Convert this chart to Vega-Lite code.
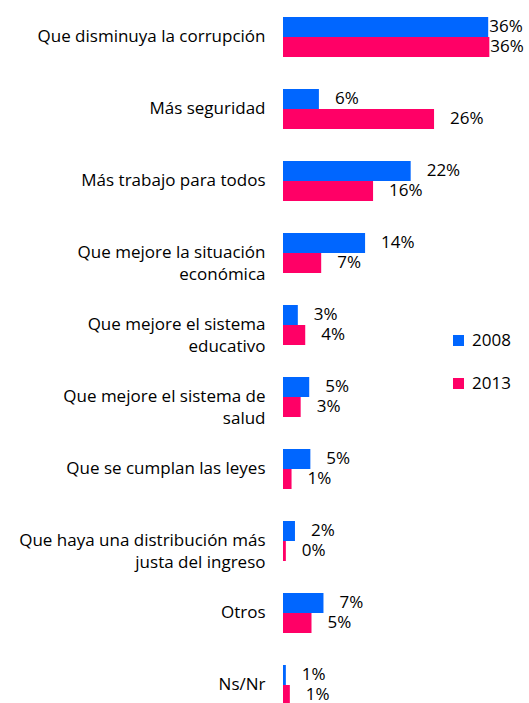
{
  "$schema": "https://vega.github.io/schema/vega-lite/v6.json",
  "autosize": {"type": "none"},
  "padding": {"left": 283, "top": 1, "right": 18, "bottom": 0},
  "width": 228,
  "height": 720,
  "config": {
    "view": {"stroke": null},
    "font": "Open Sans",
    "text": {"font": "Open Sans"}
  },
  "data": {
    "values": [
      {"cat": "Que disminuya la corrupción", "year": "2008", "value": 36.0, "label": "36%"},
      {"cat": "Que disminuya la corrupción", "year": "2013", "value": 36.2, "label": "36%"},
      {"cat": "Más seguridad", "year": "2008", "value": 6.3, "label": "6%"},
      {"cat": "Más seguridad", "year": "2013", "value": 26.5, "label": "26%"},
      {"cat": "Más trabajo para todos", "year": "2008", "value": 22.4, "label": "22%"},
      {"cat": "Más trabajo para todos", "year": "2013", "value": 15.8, "label": "16%"},
      {"cat": "Que mejore la situación|económica", "year": "2008", "value": 14.4, "label": "14%"},
      {"cat": "Que mejore la situación|económica", "year": "2013", "value": 6.7, "label": "7%"},
      {"cat": "Que mejore el sistema|educativo", "year": "2008", "value": 2.6, "label": "3%"},
      {"cat": "Que mejore el sistema|educativo", "year": "2013", "value": 3.9, "label": "4%"},
      {"cat": "Que mejore el sistema de|salud", "year": "2008", "value": 4.6, "label": "5%"},
      {"cat": "Que mejore el sistema de|salud", "year": "2013", "value": 3.1, "label": "3%"},
      {"cat": "Que se cumplan las leyes", "year": "2008", "value": 4.8, "label": "5%"},
      {"cat": "Que se cumplan las leyes", "year": "2013", "value": 1.5, "label": "1%"},
      {"cat": "Que haya una distribución más|justa del ingreso", "year": "2008", "value": 2.1, "label": "2%"},
      {"cat": "Que haya una distribución más|justa del ingreso", "year": "2013", "value": 0.5, "label": "0%"},
      {"cat": "Otros", "year": "2008", "value": 7.1, "label": "7%"},
      {"cat": "Otros", "year": "2013", "value": 5.0, "label": "5%"},
      {"cat": "Ns/Nr", "year": "2008", "value": 0.5, "label": "1%"},
      {"cat": "Ns/Nr", "year": "2013", "value": 1.2, "label": "1%"}
    ]
  },
  "encoding": {
    "y": {
      "field": "cat",
      "type": "nominal",
      "sort": null,
      "scale": {"paddingInner": 0.4444, "paddingOuter": 0.2222},
      "axis": {
        "title": null,
        "domain": false,
        "ticks": false,
        "labelPadding": 18,
        "labelFontSize": 17,
        "labelColor": "#000000",
        "labelFont": "Open Sans",
        "labelLineHeight": 22,
        "labelLimit": 300,
        "labelExpr": "split(datum.label, '|')"
      }
    },
    "yOffset": {"field": "year", "type": "nominal", "scale": {"paddingInner": 0, "paddingOuter": 0}}
  },
  "layer": [
    {
      "mark": {"type": "bar"},
      "encoding": {
        "x": {
          "field": "value",
          "type": "quantitative",
          "scale": {"domain": [0, 40]},
          "axis": null
        },
        "color": {
          "field": "year",
          "type": "nominal",
          "scale": {"domain": ["2008", "2013"], "range": ["#0066FF", "#FF0066"]},
          "legend": {
            "title": null,
            "orient": "none",
            "legendX": 167,
            "legendY": 331,
            "symbolType": "square",
            "symbolSize": 121,
            "symbolStrokeWidth": 0,
            "labelFontSize": 17,
            "labelFont": "Open Sans",
            "labelColor": "#000000",
            "labelOffset": 5,
            "rowPadding": 25
          }
        }
      }
    },
    {
      "transform": [{"filter": "datum.value < 30"}],
      "mark": {"type": "text", "align": "left", "baseline": "middle", "dx": 16, "fontSize": 17, "color": "#000000"},
      "encoding": {
        "x": {"field": "value", "type": "quantitative", "scale": {"domain": [0, 40]}},
        "text": {"field": "label"}
      }
    },
    {
      "transform": [{"filter": "datum.value >= 30"}],
      "mark": {"type": "text", "align": "left", "baseline": "middle", "dx": 1, "fontSize": 17, "color": "#000000"},
      "encoding": {
        "x": {"field": "value", "type": "quantitative", "scale": {"domain": [0, 40]}},
        "text": {"field": "label"}
      }
    }
  ]
}
